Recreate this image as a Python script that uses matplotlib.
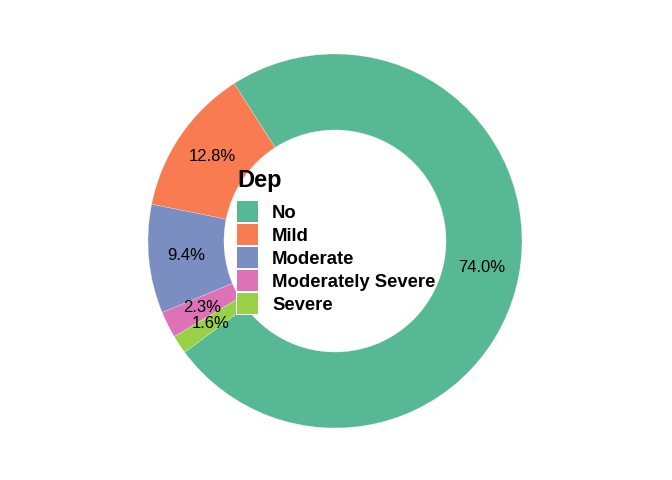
import matplotlib.pyplot as plt
import numpy as np

plt.rcParams['font.family'] = ['Liberation Sans', 'DejaVu Sans']

# ---- data ----
categories = ["No", "Mild", "Moderate", "Moderately Severe", "Severe"]
percent = [74.0, 12.8, 9.4, 2.3, 1.6]
colors = ["#57B994", "#F97B52", "#7B8EC1", "#DE72B6", "#98D047"]

W, H = 672, 480
fig = plt.figure(figsize=(W / 100, H / 100), dpi=100)

# pie centre and outer radius in pixels
cx, cy, r = 335, 241, 187
ax = fig.add_axes([(cx - r) / W, (H - cy - r) / H, 2 * r / W, 2 * r / H])

ring = 0.406
wedges, _ = ax.pie(percent, colors=colors, startangle=216.5, counterclock=True,
                   radius=1, wedgeprops=dict(width=ring, edgecolor="white", linewidth=0.15))

# percent labels in the middle of the ring
mid_r = 1 - ring / 2
for w, p in zip(wedges, percent):
    ang = np.deg2rad((w.theta1 + w.theta2) / 2)
    ax.text(mid_r * np.cos(ang), mid_r * np.sin(ang), f"{p:.1f}%",
            ha="center", va="center", fontsize=12, color="black")

ax.set_xlim(-1, 1)
ax.set_ylim(-1, 1)
ax.set_aspect("equal")
ax.axis("off")

# legend drawn by hand inside the hole (pixel layout, ggplot style)
def fx(px):
    return px / W

def fy(py):
    return 1 - py / H

lx, title_y, row0, step, key = 236, 178, 211, 23.2, 23
fig.text(fx(lx + 1), fy(title_y), "Dep", fontsize=17, fontweight="bold",
         ha="left", va="center_baseline")
for i, (lab, c) in enumerate(zip(categories, colors)):
    yc = row0 + i * step
    # white key background, then the coloured key
    fig.patches.append(plt.Rectangle((fx(lx), fy(yc + key / 2)), key / W, key / H,
                                     transform=fig.transFigure, facecolor="white",
                                     edgecolor="none", zorder=3))
    fig.patches.append(plt.Rectangle((fx(lx + 1), fy(yc + key / 2 - 1)), (key - 2) / W,
                                     (key - 2) / H, transform=fig.transFigure,
                                     facecolor=c, edgecolor="none", zorder=4))
    fig.text(fx(272), fy(yc), lab, fontsize=13.3, fontweight="bold",
             ha="left", va="center_baseline", zorder=5)

fig.savefig("out.png", dpi=100)
